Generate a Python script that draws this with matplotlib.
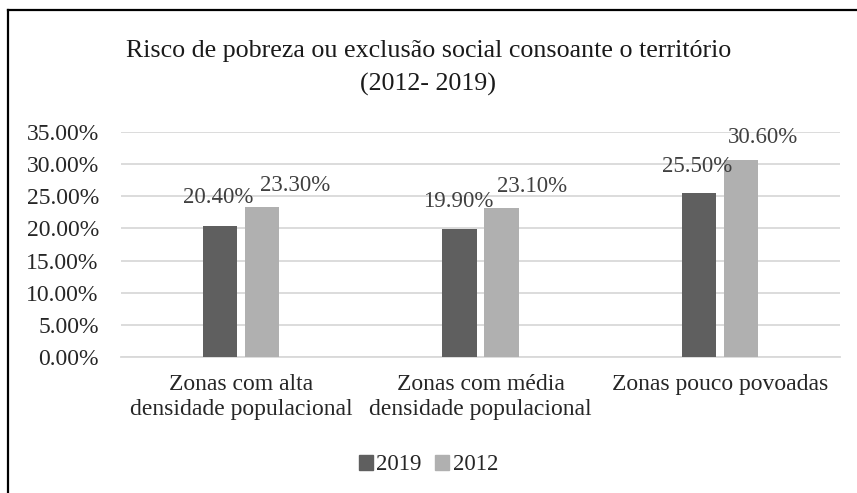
import matplotlib
matplotlib.use("Agg")
import matplotlib.pyplot as plt
from matplotlib.patches import Patch
from matplotlib.lines import Line2D
import numpy as np

# data
categories = ["Zonas com alta\ndensidade populacional",
              "Zonas com média\ndensidade populacional",
              "Zonas pouco povoadas"]
series_names = ["2019", "2012"]
values_2019 = [0.204, 0.199, 0.255]
values_2012 = [0.233, 0.231, 0.306]
yticks = [0.0, 0.05, 0.10, 0.15, 0.20, 0.25, 0.30, 0.35]

# styling
colors = ["#5f5f5f", "#b0b0b0"]
# label offsets in points (dx, dy) relative to bar top center
label_offsets = [
    [(-1.5, 12.5), (-1, 12.5), (-1.5, 11.5)],
    [(24, 8), (22, 8), (16, 9)],
]
font = "Liberation Serif"
fs = 16.5
fs_axis = 17
fs_title = 18.7

plt.rcParams["font.family"] = [font, "DejaVu Serif"]

fig = plt.figure(figsize=(8.57, 4.93), dpi=100)
W, H = 857, 493
ax = fig.add_axes([121 / W, 1 - 357 / H, (840 - 121) / W, (357 - 132) / H])

x = np.arange(len(categories))
width = 0.142
offset = 0.0876
for i, vals in enumerate([values_2019, values_2012]):
    pos = x + (-offset if i == 0 else offset)
    ax.bar(pos, vals, width, color=colors[i], zorder=3, label=series_names[i])
    for j, (p, v) in enumerate(zip(pos, vals)):
        dx, dy = label_offsets[i][j]
        ax.annotate(f"{v * 100:.2f}%", (p, v), xytext=(dx, dy),
                    textcoords="offset points", ha="center", va="bottom",
                    fontsize=fs, color="#404040", zorder=4)

ax.set_xlim(-0.5, len(categories) - 0.5)
ax.set_ylim(0, 0.35)
ax.set_yticks(yticks)
ax.set_yticklabels([f"{t * 100:.2f}%" for t in yticks])
ax.yaxis.grid(True, color="#d9d9d9", linewidth=1.3, zorder=0)
ax.set_axisbelow(True)
ax.set_xticks(x)
ax.set_xticklabels(categories, linespacing=1.3)
ax.tick_params(axis="y", length=0, pad=16, labelsize=fs_axis, labelcolor="#262626")
ax.tick_params(axis="x", length=0, pad=12, labelsize=fs_axis, labelcolor="#262626")
for s in ["top", "right", "left"]:
    ax.spines[s].set_visible(False)
ax.spines["bottom"].set_color("#d9d9d9")
ax.spines["bottom"].set_linewidth(1.3)

fig.text(0.5, 1 - 51 / H, "Risco de pobreza ou exclusão social consoante o território",
         ha="center", va="center", fontsize=fs_title, color="#1a1a1a")
fig.text(0.5, 1 - 84 / H, "(2012- 2019)",
         ha="center", va="center", fontsize=fs_title, color="#1a1a1a")

handles = [Patch(color=c) for c in colors]
fig.legend(handles, series_names, loc="center", bbox_to_anchor=(0.5, 1 - 465 / H),
           ncol=2, frameon=False, fontsize=fs, handlelength=0.6, handleheight=0.6,
           handletextpad=0.15, columnspacing=0.6, labelcolor="#262626")

# outer border (only left and top visible in the crop)
fig.add_artist(Line2D([8 / W, 8 / W], [0, 1 - 10 / H], transform=fig.transFigure,
                      color="black", linewidth=1.6))
fig.add_artist(Line2D([8 / W, 1], [1 - 10 / H, 1 - 10 / H], transform=fig.transFigure,
                      color="black", linewidth=1.6))

fig.savefig("out.png", dpi=100)
